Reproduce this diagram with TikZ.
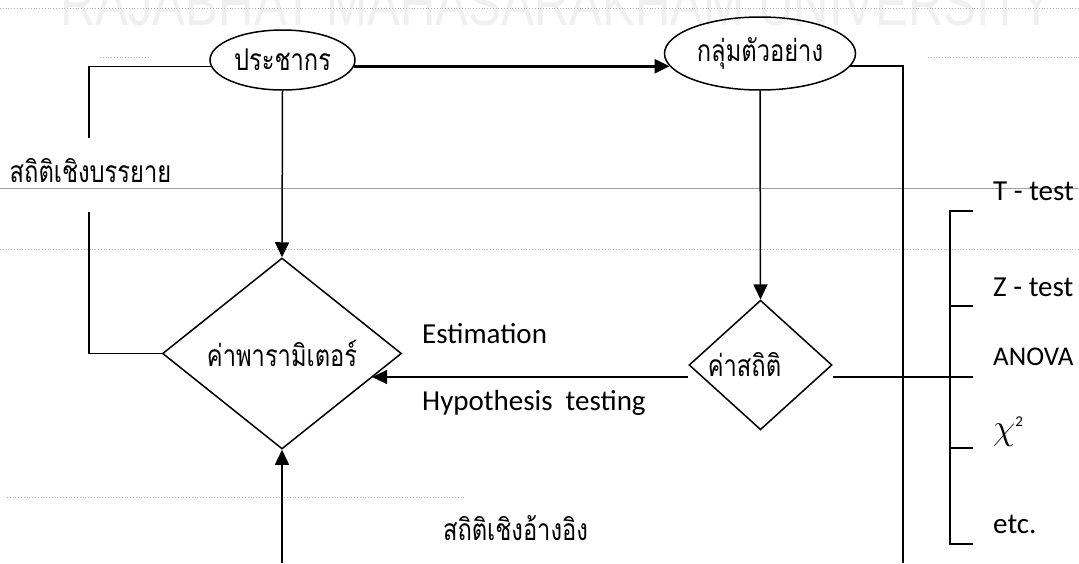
\documentclass[tikz,border=0pt]{standalone}
\usepackage{fontspec}
\setmainfont{Carlito}
\newfontfamily\thaifont[Script=Thai,FakeStretch=0.79]{Loma}
\newfontfamily\wmfont{Liberation Sans}
\usetikzlibrary{shapes.geometric,arrows.meta,calc}
\begin{document}
\begin{tikzpicture}[x=1pt,y=-1pt,
  ln/.style={line width=1.5pt},
  arr/.style={line width=1.5pt,-{Triangle[length=15pt,width=14pt]}},
  thai/.style={font=\thaifont\fontsize{30}{34}\selectfont},
  lat/.style={font=\fontsize{29}{33}\selectfont,inner sep=0pt},
  ellnode/.style={ellipse,draw,line width=1.5pt,inner sep=0pt,thai},
  dianode/.style={diamond,draw,line width=1.5pt,inner sep=0pt,thai},
  pageline/.style={gray!75,line width=0.9pt},
  dotline/.style={gray!60,line width=0.8pt,dotted}]
\useasboundingbox (0,0) rectangle (1079,563);
\clip (0,0) rectangle (1079,563);
% watermark
\node[anchor=base west,text=gray!12,font=\wmfont\fontsize{63}{66}\selectfont,xscale=0.78,inner sep=0pt] (wm) at (60,25) {RAJABHAT MAHASARAKHAM UNIVERSITY};
% page lines
\draw[dotline] (0,8) -- (1079,8);
\draw[dotline] (0,249) -- (1079,249);
\draw[dotline] (7,497) -- (465,497);
\draw[dotline] (100,57) -- (148,57);
\draw[dotline] (928,57) -- (1079,57);
\draw[pageline] (0,188.5) -- (1079,188.5);
% nodes
\node[ellnode,minimum width=145pt,minimum height=60pt] (popu) at (282.5,60) {ประชากร};
\node[ellnode,minimum width=191pt,minimum height=73pt] (samp) at (760,53.5) {กลุ่มตัวอย่าง};
\node[dianode,minimum width=239pt,minimum height=191pt] (kp) at (282,353.5) {\raisebox{-9pt}{ค่าพารามิเตอร์}};
\node[dianode,minimum width=143pt,minimum height=120pt] (ks) at (760.5,365) {ค่าสถิติ\kern32pt};
% labels
\node[thai,anchor=base,inner sep=0pt] (desc) at (90.5,182) {สถิติเชิงบรรยาย};
\node[thai,anchor=base,inner sep=0pt] (infer) at (515.5,540) {สถิติเชิงอ้างอิง};
\node[lat,anchor=base west] (est) at (422,343) {Estimation};
\node[lat,anchor=base west] (hyp) at (422,410) {Hypothesis\ \ testing};
\node[lat,anchor=base west] (tt) at (993,200) {T - test};
\node[lat,anchor=base west] (zt) at (993,296) {Z - test};
\node[lat,anchor=base west,font=\fontsize{27}{30}\selectfont] (an) at (993,365) {ANOVA};
\node[lat,anchor=base west] (chi) at (993,439) {{\fontsize{24.88}{26}\selectfont\scalebox{1.45}{$\chi$}}\raisebox{13pt}{\fontsize{15}{15}\selectfont 2}};
\node[lat,anchor=base west] (etc) at (993,533) {etc.};
% coordinates
\coordinate (lt) at (89,138);
\coordinate (lb) at (89,212);
\coordinate (rb) at (903,563);
\coordinate (bot) at (282,563);
\coordinate (hl) at ($(ks.west)+(0,12)$);
\coordinate (hr) at ($(ks.east)+(0,12)$);
\coordinate (b1) at (973,211);
\coordinate (b2) at (973,306);
\coordinate (b3) at (973,377);
\coordinate (b4) at (973,448);
\coordinate (b5) at (973,544);
\coordinate (bx) at (950,0);
% connectors
\draw[ln] (popu.185) -| (lt);
\draw[ln] (lb) |- (kp.west);
\draw[arr,line width=2.6pt] (popu.-5) -- (popu.-5 -| samp.188);
\draw[ln] (samp.-8) -| (rb);
\draw[arr] (popu.south) -- (kp.north);
\draw[arr] (bot) -- (kp.south);
\draw[arr] (samp.south) -- (ks.north);
\draw[arr] (hl) -- (hl -| kp.-15);
\draw[ln] (hr) -- (b3);
\draw[ln] (b1) -- (b1 -| bx) -- (b5 -| bx) -- (b5);
\draw[ln] (b2 -| bx) -- (b2);
\draw[ln] (b4 -| bx) -- (b4);
\end{tikzpicture}
\end{document}
